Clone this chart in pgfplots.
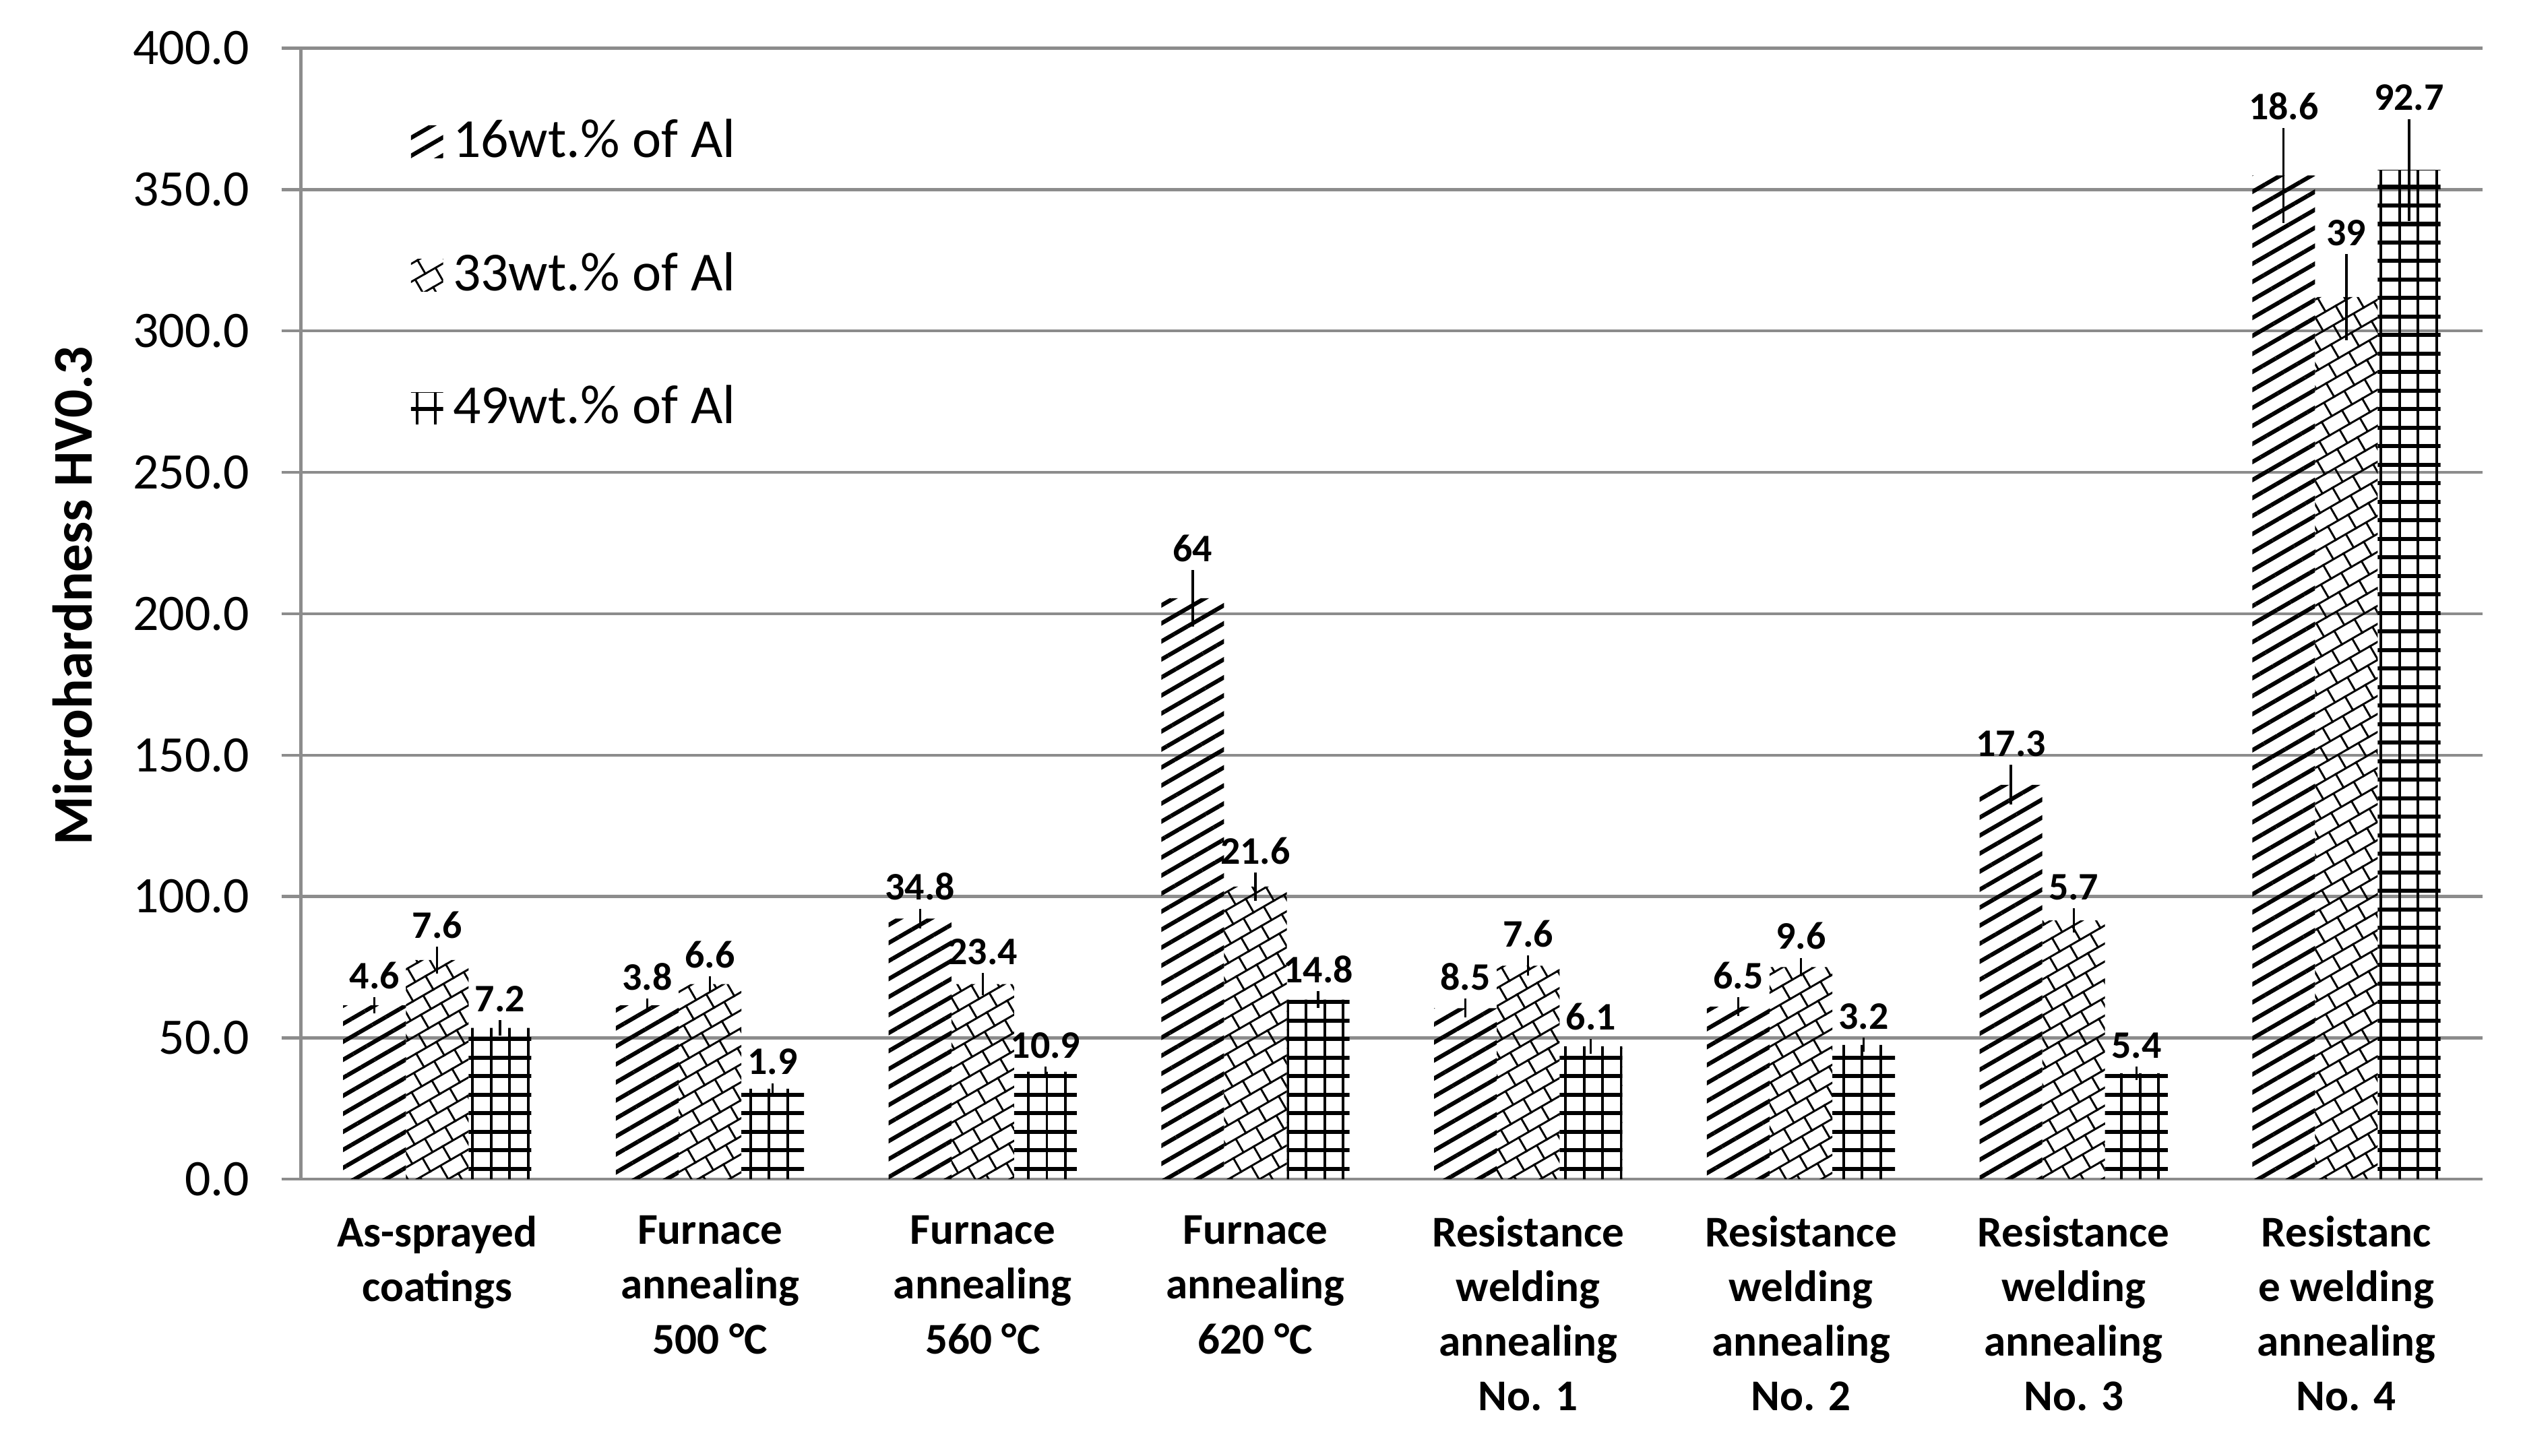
\documentclass[border=0pt]{standalone}
\usepackage{pgfplots}
\pgfplotsset{compat=1.18}
\usepackage{pgfplotstable}
\usepackage{fontspec}
\setmainfont{Carlito}
\usetikzlibrary{patterns,patterns.meta}

\definecolor{gridgray}{RGB}{140,140,140}

\pgfdeclarepattern{
  name=gridHV,
  type=uncolored,
  bottom left={\pgfpoint{-0.1pt}{-0.1pt}},
  top right={\pgfpoint{3.9pt}{3.9pt}},
  tile size={\pgfpoint{3.8pt}{3.8pt}},
  code={
    \pgfsetlinewidth{0.85pt}
    \pgfpathmoveto{\pgfpoint{-0.1pt}{1.9pt}}
    \pgfpathlineto{\pgfpoint{3.9pt}{1.9pt}}
    \pgfusepath{stroke}
    \pgfsetlinewidth{0.55pt}
    \pgfpathmoveto{\pgfpoint{1.9pt}{-0.1pt}}
    \pgfpathlineto{\pgfpoint{1.9pt}{3.9pt}}
    \pgfusepath{stroke}
  }
}
\pgfdeclarepattern{
  name=diagbrick,
  type=uncolored,
  bottom left={\pgfpoint{-0.3pt}{-0.3pt}},
  top right={\pgfpoint{5.1pt}{6.7pt}},
  tile size={\pgfpoint{4.8pt}{6.4pt}},
  tile transformation={\pgftransformrotate{30}},
  code={
    \pgfsetlinewidth{0.4pt}
    \pgfpathmoveto{\pgfpoint{-0.3pt}{0pt}}\pgfpathlineto{\pgfpoint{5.1pt}{0pt}}
    \pgfpathmoveto{\pgfpoint{-0.3pt}{3.2pt}}\pgfpathlineto{\pgfpoint{5.1pt}{3.2pt}}
    \pgfpathmoveto{\pgfpoint{0pt}{0pt}}\pgfpathlineto{\pgfpoint{0pt}{3.2pt}}
    \pgfpathmoveto{\pgfpoint{2.4pt}{3.2pt}}\pgfpathlineto{\pgfpoint{2.4pt}{6.4pt}}
    \pgfusepath{stroke}
  }
}

\pgfplotsset{
  myleg/.style={legend image code/.code={\fill[##1] (0pt,-3.3pt) rectangle (6.6pt,3.3pt);}},
}

\pgfplotstableread{
x y err lab
0 61.5 2.8 4.6
1 61.5 2.4 3.8
2 92.2 3.5 34.8
3 205.5 10 64
4 60.5 3.3 8.5
5 61 3.3 6.5
6 139.5 7 17.3
7 355 16.8 18.6
}\tabA
\pgfplotstableread{
x y err lab
0 77.5 4.7 7.6
1 69 2.8 6.6
2 69 3.9 23.4
3 103.5 5 21.6
4 75.5 3.6 7.6
5 75 3.3 9.6
6 91.5 4.3 5.7
7 312 15.2 39
}\tabB
\pgfplotstableread{
x y err lab
0 53.5 2.7 7.2
1 32 2 1.9
2 38 1.8 10.9
3 63.5 3 14.8
4 47 2.7 6.1
5 47.5 2.5 3.2
6 37.5 2.4 5.4
7 357 18 92.7
}\tabC

\begin{document}
\begin{tikzpicture}
\useasboundingbox (-61.71pt,-56.76pt) rectangle (455.73pt,241.89pt);
\begin{axis}[
  at={(0,0)}, anchor=south west,
  scale only axis,
  width=447.48pt, height=231.99pt,
  xmin=-0.5, xmax=7.5,
  ymin=0, ymax=400,
  ytick={0,50,...,400},
  xtick={0,...,7},
  xticklabels={
    {As-sprayed\\coatings},
    {Furnace\\annealing\\500 °C},
    {Furnace\\annealing\\560 °C},
    {Furnace\\annealing\\620 °C},
    {Resistance\\welding\\annealing\\No. 1},
    {Resistance\\welding\\annealing\\No. 2},
    {Resistance\\welding\\annealing\\No. 3},
    {Resistanc\\e welding\\annealing\\No. 4}},
  axis lines*=left,
  axis line style={draw=gridgray, line width=0.6pt, -},
  ymajorgrids,
  grid style={draw=gridgray, line width=0.6pt},
  tick align=outside,
  major tick length=4pt,
  ytick style={draw=gridgray, line width=0.6pt},
  xtick style={draw=none},
  /pgf/number format/assume math mode=true,
  yticklabel style={/pgf/number format/fixed, /pgf/number format/fixed zerofill, /pgf/number format/precision=1, font=\fontsize{10.5}{12}\selectfont, xshift=-3pt},
  xticklabel style={align=center, font=\fontsize{9}{11.2}\selectfont\bfseries},
  ylabel={Microhardness HV0.3},
  every axis y label/.style={at={(axis description cs:-0.1048,0.516)}, rotate=90, anchor=center, font=\fontsize{11.5}{13}\selectfont\bfseries},
  clip=false,
  legend style={draw=none, fill=none, at={(0.05,0.947)}, anchor=north west, font=\fontsize{11.3}{13}\selectfont, row sep=14pt, inner sep=0pt},
  legend cell align=left,
  every node near coord/.append style={font=\fontsize{8}{9.6}\selectfont\bfseries, anchor=south, inner sep=1.5pt, yshift=0.58pt*\myerr, text=black},
]
\addplot[ybar, bar width=0.23, bar shift=0, draw=none,
  pattern={Lines[angle=30,distance=3.2pt,line width=0.85pt]}, myleg,
  nodes near coords, point meta=explicit symbolic,
  visualization depends on={\thisrow{err} \as \myerr},
  error bars/.cd, y dir=both, y explicit, error mark=none,
  error bar style={draw=black, line width=0.45pt}]
  table[x expr=\thisrow{x}-0.23, y=y, y error=err, meta=lab] {\tabA};
\addlegendentry{16wt.\% of Al}
\addplot[ybar, bar width=0.23, bar shift=0, draw=none,
  pattern=diagbrick, myleg,
  nodes near coords, point meta=explicit symbolic,
  visualization depends on={\thisrow{err} \as \myerr},
  error bars/.cd, y dir=both, y explicit, error mark=none,
  error bar style={draw=black, line width=0.45pt}]
  table[x=x, y=y, y error=err, meta=lab] {\tabB};
\addlegendentry{33wt.\% of Al}
\addplot[ybar, bar width=0.23, bar shift=0, draw=none,
  pattern=gridHV, myleg,
  nodes near coords, point meta=explicit symbolic,
  visualization depends on={\thisrow{err} \as \myerr},
  error bars/.cd, y dir=both, y explicit, error mark=none,
  error bar style={draw=black, line width=0.45pt}]
  table[x expr=\thisrow{x}+0.23, y=y, y error=err, meta=lab] {\tabC};
\addlegendentry{49wt.\% of Al}
\end{axis}
\end{tikzpicture}
\end{document}
